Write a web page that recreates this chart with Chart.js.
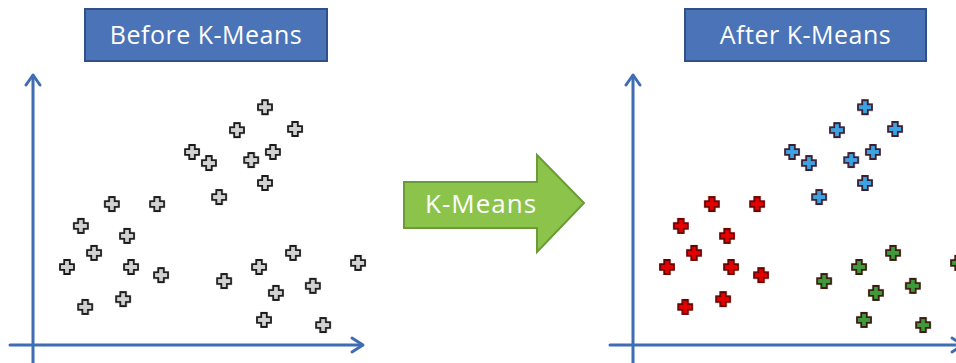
<!DOCTYPE html>
<html>
<head>
<meta charset="utf-8">
<script src="https://cdn.jsdelivr.net/npm/chart.js@4/dist/chart.umd.min.js"></script>
<style>
  html, body { margin: 0; padding: 0; background: #ffffff; width: 956px; height: 363px; overflow: hidden; position: relative; }
  canvas { position: absolute; top: 0; }
  .title {
    position: absolute; top: 8px; height: 54px; box-sizing: border-box;
    background: #4a73b8; border: 2px solid #2f5088; color: #ffffff;
    font-family: "Open Sans", sans-serif; font-size: 25px; letter-spacing: 0.5px; line-height: 48px; text-align: center;
  }
  svg { position: absolute; left: 0; top: 0; }
</style>
</head>
<body>
<div class="title" style="left:84px;width:244px;">Before K-Means</div>
<div class="title" style="left:684px;width:243px;">After K-Means</div>
<svg width="956" height="363">
  <polygon points="404,182 537,182 537,155 584,203 537,252 537,228 404,228" fill="#8cc34b" stroke="#6b9b36" stroke-width="2"/>
  <text x="481" y="213" fill="#ffffff" font-family="Open Sans, sans-serif" font-size="26" letter-spacing="1" text-anchor="middle">K-Means</text>
</svg>
<canvas id="left" width="380" height="363" style="left:0px;"></canvas>
<canvas id="right" width="380" height="363" style="left:600px;"></canvas>
<script>
// Cluster data (arbitrary units, origin at axes crossing)
const blueX  = [7.03, 6.18, 7.94, 4.82, 5.33, 6.61, 7.27, 7.03, 5.64];
const blueY  = [8.81, 7.96, 8.00, 7.15, 6.74, 6.85, 7.15, 6.00, 5.48];
const redX   = [2.39, 3.76, 1.45, 2.85, 1.85, 1.03, 2.97, 3.88, 1.58, 2.73];
const redY   = [5.22, 5.22, 4.41, 4.04, 3.41, 2.89, 2.89, 2.59, 1.41, 1.70];
const greenX = [5.79, 6.85, 7.88, 9.85, 7.36, 8.48, 7.00, 8.79];
const greenY = [2.37, 2.89, 3.41, 3.04, 1.93, 2.19, 0.93, 0.74];

const X_MAX = 10, Y_MAX = 10;

function toPoints(xs, ys) { return xs.map((x, i) => ({ x: x, y: ys[i] })); }

function plusImage(fill, stroke) {
  const s = 18, c = document.createElement('canvas');
  c.width = s; c.height = s;
  const g = c.getContext('2d');
  const m = s / 2, a = 2.8, L = 7;
  g.beginPath();
  g.moveTo(m - a, m - L); g.lineTo(m + a, m - L); g.lineTo(m + a, m - a);
  g.lineTo(m + L, m - a); g.lineTo(m + L, m + a); g.lineTo(m + a, m + a);
  g.lineTo(m + a, m + L); g.lineTo(m - a, m + L); g.lineTo(m - a, m + a);
  g.lineTo(m - L, m + a); g.lineTo(m - L, m - a); g.lineTo(m - a, m - a);
  g.closePath();
  g.fillStyle = fill; g.fill();
  g.lineWidth = 1.8; g.strokeStyle = stroke; g.lineJoin = 'miter'; g.stroke();
  return c;
}

const axisColor = '#3f6db3';
const axesPlugin = {
  id: 'arrowAxes',
  beforeDatasetsDraw(chart) {
    const ctx = chart.ctx, xs = chart.scales.x, ys = chart.scales.y;
    const ox = xs.getPixelForValue(0), oy = ys.getPixelForValue(0);
    const xr = xs.getPixelForValue(X_MAX), yt = ys.getPixelForValue(Y_MAX);
    ctx.save();
    ctx.strokeStyle = axisColor; ctx.lineWidth = 3; ctx.lineCap = 'round'; ctx.lineJoin = 'round';
    ctx.beginPath();
    ctx.moveTo(ox - 23, oy); ctx.lineTo(xr - 1, oy);
    ctx.moveTo(ox, chart.height + 2); ctx.lineTo(ox, yt + 1);
    ctx.stroke();
    ctx.beginPath();
    ctx.moveTo(xr - 11, oy - 7); ctx.lineTo(xr, oy); ctx.lineTo(xr - 11, oy + 7);
    ctx.moveTo(ox - 7, yt + 10); ctx.lineTo(ox, yt); ctx.lineTo(ox + 7, yt + 10);
    ctx.stroke();
    ctx.restore();
  }
};

function makeOptions() {
  return {
    responsive: false, animation: false, devicePixelRatio: 1,
    layout: { padding: { left: 33, right: 17, top: 75, bottom: 18 } },
    plugins: { legend: { display: false }, tooltip: { enabled: false }, title: { display: false } },
    scales: {
      x: { type: 'linear', min: 0, max: X_MAX, display: false },
      y: { type: 'linear', min: 0, max: Y_MAX, display: false }
    }
  };
}

const grayImg = plusImage('#d2d2d2', '#1a1a1a');
new Chart(document.getElementById('left'), {
  type: 'scatter',
  data: { datasets: [
    { data: toPoints(blueX, blueY), pointStyle: grayImg, clip: false },
    { data: toPoints(redX, redY), pointStyle: grayImg, clip: false },
    { data: toPoints(greenX, greenY), pointStyle: grayImg, clip: false }
  ]},
  options: makeOptions(),
  plugins: [axesPlugin]
});

new Chart(document.getElementById('right'), {
  type: 'scatter',
  data: { datasets: [
    { data: toPoints(blueX, blueY), pointStyle: plusImage('#3da2e2', '#3a1f33'), clip: false },
    { data: toPoints(redX, redY), pointStyle: plusImage('#e30000', '#6a0000'), clip: false },
    { data: toPoints(greenX, greenY), pointStyle: plusImage('#3f9a3a', '#3a1a10'), clip: false }
  ]},
  options: makeOptions(),
  plugins: [axesPlugin]
});
</script>
</body>
</html>
